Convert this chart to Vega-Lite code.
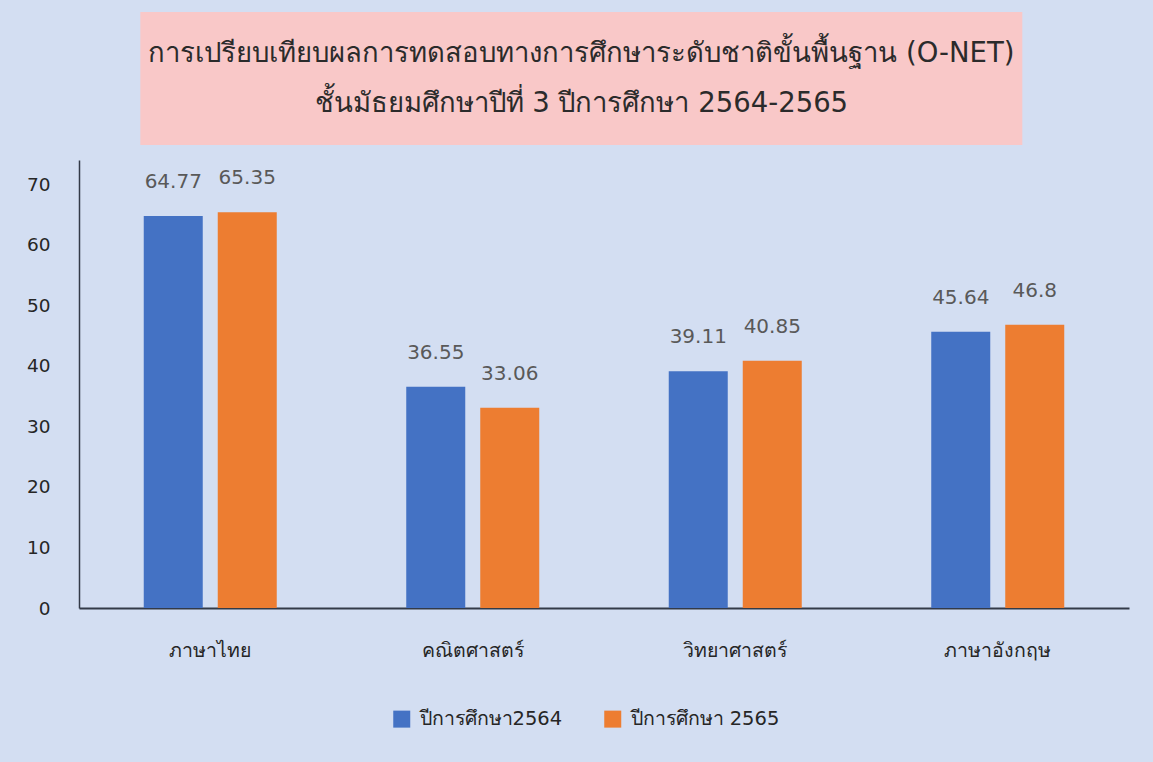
{
  "$schema": "https://vega.github.io/schema/vega-lite/v6.json",
  "background": "#d3def2",
  "padding": {"left": 26, "top": 12, "right": 25, "bottom": 40},
  "spacing": 15,
  "center": true,
  "config": {"font": "Tahoma, DejaVu Sans, sans-serif", "view": {"stroke": null}},
  "vconcat": [
    {
      "width": 882,
      "height": 133,
      "data": {"values": [
        {"line": 1, "text": "การเปรียบเทียบผลการทดสอบทางการศึกษาระดับชาติขั้นพื้นฐาน (O-NET)"},
        {"line": 2, "text": "ชั้นมัธยมศึกษาปีที่ 3 ปีการศึกษา 2564-2565"}
      ]},
      "mark": {"type": "text", "fontSize": 27.5, "color": "#2b2b2b"},
      "encoding": {
        "y": {"field": "line", "type": "ordinal", "scale": {"type": "point", "padding": 0.83},
              "axis": {"title": null, "orient": "right", "domain": false, "ticks": false, "labelFontSize": 10, "labelOpacity": 0, "labelPadding": 39}},
        "text": {"field": "text", "type": "nominal"}
      },
      "view": {"fill": "#f9c8c8", "stroke": null}
    },
    {
      "width": 1050,
      "height": 448,
      "data": {"values": [
        {"subject": "ภาษาไทย", "year": "ปีการศึกษา2564", "score": 64.77},
        {"subject": "ภาษาไทย", "year": "ปีการศึกษา 2565", "score": 65.35},
        {"subject": "คณิตศาสตร์", "year": "ปีการศึกษา2564", "score": 36.55},
        {"subject": "คณิตศาสตร์", "year": "ปีการศึกษา 2565", "score": 33.06},
        {"subject": "วิทยาศาสตร์", "year": "ปีการศึกษา2564", "score": 39.11},
        {"subject": "วิทยาศาสตร์", "year": "ปีการศึกษา 2565", "score": 40.85},
        {"subject": "ภาษาอังกฤษ", "year": "ปีการศึกษา2564", "score": 45.64},
        {"subject": "ภาษาอังกฤษ", "year": "ปีการศึกษา 2565", "score": 46.8}
      ]},
      "view": {"stroke": null},
      "encoding": {
        "x": {
          "field": "subject", "type": "nominal",
          "sort": ["ภาษาไทย", "คณิตศาสตร์", "วิทยาศาสตร์", "ภาษาอังกฤษ"],
          "scale": {"paddingInner": 0, "paddingOuter": 0},
          "axis": {"title": null, "labelAngle": 0, "domain": true, "domainColor": "#333a48", "domainWidth": 2, "ticks": false, "labelFontSize": 19.5, "labelColor": "#262626", "labelPadding": 33}
        },
        "xOffset": {
          "field": "year", "type": "nominal",
          "sort": ["ปีการศึกษา2564", "ปีการศึกษา 2565"],
          "scale": {"paddingInner": 0.2027, "paddingOuter": 0.875}
        },
        "y": {
          "field": "score", "type": "quantitative",
          "scale": {"domain": [0, 74], "nice": false},
          "axis": {"title": null, "values": [0, 10, 20, 30, 40, 50, 60, 70], "grid": false, "ticks": false, "domain": true, "domainColor": "#333a48", "domainWidth": 1.5, "labelFontSize": 18.5, "labelColor": "#262626", "labelPadding": 29}
        }
      },
      "layer": [
        {
          "mark": {"type": "bar"},
          "encoding": {
            "color": {
              "field": "year", "type": "nominal",
              "scale": {"domain": ["ปีการศึกษา2564", "ปีการศึกษา 2565"], "range": ["#4472c4", "#ed7d31"]},
              "legend": {"title": null, "orient": "none", "legendX": 313, "legendY": 697, "direction": "horizontal", "symbolType": "square", "symbolSize": 289, "symbolStrokeWidth": 0, "labelFontSize": 19.5, "labelColor": "#262626", "columnPadding": 40, "labelOffset": 8}
            }
          }
        },
        {
          "mark": {"type": "text", "dy": -34, "fontSize": 20, "color": "#595959"},
          "encoding": {"text": {"field": "score", "type": "nominal"}}
        }
      ]
    }
  ]
}
